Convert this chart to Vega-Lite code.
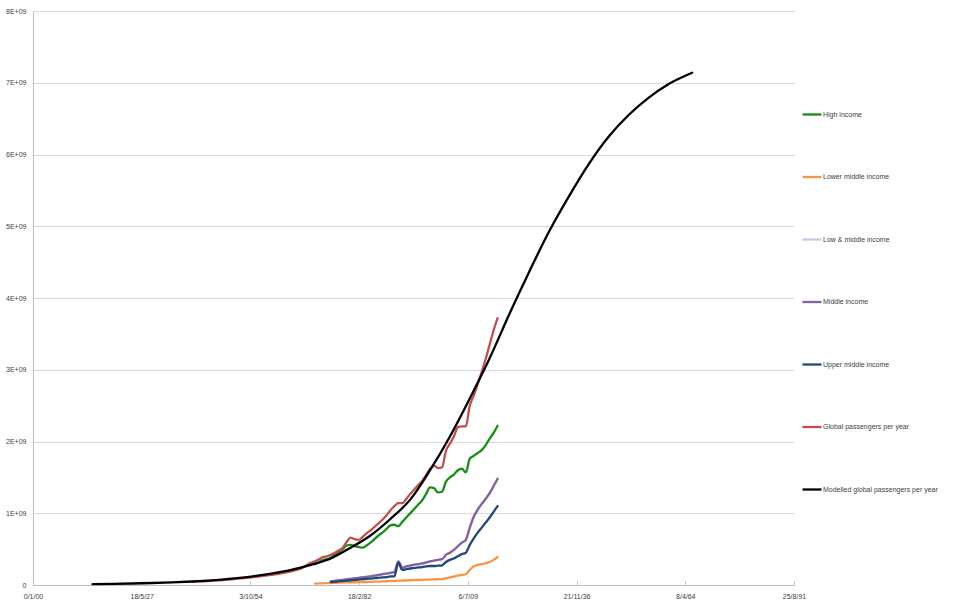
{
 "$schema": "https://vega.github.io/schema/vega-lite/v6.json",
 "width": 761, "height": 574,
 "autosize": {"type": "none"},
 "padding": {"left": 33, "top": 11, "right": 166, "bottom": 21},
 "background": "white",
 "config": {"view": {"stroke": null}, "font": "Liberation Sans"},
 "datasets": {
  "d": [
   {"series":"High income","year":1971,"bn":0.29},{"series":"High income","year":1972,"bn":0.32},{"series":"High income","year":1973,"bn":0.35},{"series":"High income","year":1974,"bn":0.36},{"series":"High income","year":1975,"bn":0.38},{"series":"High income","year":1976,"bn":0.42},{"series":"High income","year":1977,"bn":0.46},{"series":"High income","year":1978,"bn":0.5},{"series":"High income","year":1979,"bn":0.55},{"series":"High income","year":1980,"bn":0.56},{"series":"High income","year":1981,"bn":0.54},{"series":"High income","year":1982,"bn":0.53},{"series":"High income","year":1983,"bn":0.52},{"series":"High income","year":1984,"bn":0.55},{"series":"High income","year":1985,"bn":0.59},{"series":"High income","year":1986,"bn":0.64},{"series":"High income","year":1987,"bn":0.69},{"series":"High income","year":1988,"bn":0.73},{"series":"High income","year":1989,"bn":0.78},{"series":"High income","year":1990,"bn":0.83},{"series":"High income","year":1991,"bn":0.84},{"series":"High income","year":1992,"bn":0.82},{"series":"High income","year":1993,"bn":0.88},{"series":"High income","year":1994,"bn":0.94},{"series":"High income","year":1995,"bn":1.0},{"series":"High income","year":1996,"bn":1.06},{"series":"High income","year":1997,"bn":1.12},{"series":"High income","year":1998,"bn":1.18},{"series":"High income","year":1999,"bn":1.27},{"series":"High income","year":2000,"bn":1.36},{"series":"High income","year":2001,"bn":1.35},{"series":"High income","year":2002,"bn":1.29},{"series":"High income","year":2003,"bn":1.3},{"series":"High income","year":2004,"bn":1.44},{"series":"High income","year":2005,"bn":1.5},{"series":"High income","year":2006,"bn":1.54},{"series":"High income","year":2007,"bn":1.6},{"series":"High income","year":2008,"bn":1.62},{"series":"High income","year":2009,"bn":1.57},{"series":"High income","year":2010,"bn":1.76},{"series":"High income","year":2011,"bn":1.8},{"series":"High income","year":2012,"bn":1.84},{"series":"High income","year":2013,"bn":1.88},{"series":"High income","year":2014,"bn":1.95},{"series":"High income","year":2015,"bn":2.04},{"series":"High income","year":2016,"bn":2.12},{"series":"High income","year":2017,"bn":2.22},

   {"series":"Lower middle income","year":1971,"bn":0.02},{"series":"Lower middle income","year":1972,"bn":0.022},{"series":"Lower middle income","year":1973,"bn":0.024},{"series":"Lower middle income","year":1974,"bn":0.026},{"series":"Lower middle income","year":1975,"bn":0.028},{"series":"Lower middle income","year":1976,"bn":0.03},{"series":"Lower middle income","year":1977,"bn":0.032},{"series":"Lower middle income","year":1978,"bn":0.034},{"series":"Lower middle income","year":1979,"bn":0.036},{"series":"Lower middle income","year":1980,"bn":0.037},{"series":"Lower middle income","year":1981,"bn":0.038},{"series":"Lower middle income","year":1982,"bn":0.039},{"series":"Lower middle income","year":1983,"bn":0.04},{"series":"Lower middle income","year":1984,"bn":0.042},{"series":"Lower middle income","year":1985,"bn":0.044},{"series":"Lower middle income","year":1986,"bn":0.046},{"series":"Lower middle income","year":1987,"bn":0.048},{"series":"Lower middle income","year":1988,"bn":0.05},{"series":"Lower middle income","year":1989,"bn":0.052},{"series":"Lower middle income","year":1990,"bn":0.055},{"series":"Lower middle income","year":1991,"bn":0.056},{"series":"Lower middle income","year":1992,"bn":0.06},{"series":"Lower middle income","year":1993,"bn":0.062},{"series":"Lower middle income","year":1994,"bn":0.064},{"series":"Lower middle income","year":1995,"bn":0.066},{"series":"Lower middle income","year":1996,"bn":0.068},{"series":"Lower middle income","year":1997,"bn":0.07},{"series":"Lower middle income","year":1998,"bn":0.072},{"series":"Lower middle income","year":1999,"bn":0.074},{"series":"Lower middle income","year":2000,"bn":0.076},{"series":"Lower middle income","year":2001,"bn":0.078},{"series":"Lower middle income","year":2002,"bn":0.08},{"series":"Lower middle income","year":2003,"bn":0.082},{"series":"Lower middle income","year":2004,"bn":0.095},{"series":"Lower middle income","year":2005,"bn":0.105},{"series":"Lower middle income","year":2006,"bn":0.118},{"series":"Lower middle income","year":2007,"bn":0.13},{"series":"Lower middle income","year":2008,"bn":0.14},{"series":"Lower middle income","year":2009,"bn":0.15},{"series":"Lower middle income","year":2010,"bn":0.21},{"series":"Lower middle income","year":2011,"bn":0.26},{"series":"Lower middle income","year":2012,"bn":0.28},{"series":"Lower middle income","year":2013,"bn":0.29},{"series":"Lower middle income","year":2014,"bn":0.305},{"series":"Lower middle income","year":2015,"bn":0.32},{"series":"Lower middle income","year":2016,"bn":0.35},{"series":"Lower middle income","year":2017,"bn":0.39},

   {"series":"Low & middle income","year":1975,"bn":0.05},{"series":"Low & middle income","year":1976,"bn":0.057},{"series":"Low & middle income","year":1977,"bn":0.064},{"series":"Low & middle income","year":1978,"bn":0.071},{"series":"Low & middle income","year":1979,"bn":0.078},{"series":"Low & middle income","year":1980,"bn":0.085},{"series":"Low & middle income","year":1981,"bn":0.092},{"series":"Low & middle income","year":1982,"bn":0.1},{"series":"Low & middle income","year":1983,"bn":0.107},{"series":"Low & middle income","year":1984,"bn":0.114},{"series":"Low & middle income","year":1985,"bn":0.12},{"series":"Low & middle income","year":1986,"bn":0.13},{"series":"Low & middle income","year":1987,"bn":0.14},{"series":"Low & middle income","year":1988,"bn":0.15},{"series":"Low & middle income","year":1989,"bn":0.16},{"series":"Low & middle income","year":1990,"bn":0.17},{"series":"Low & middle income","year":1991,"bn":0.18},{"series":"Low & middle income","year":1992,"bn":0.33},{"series":"Low & middle income","year":1993,"bn":0.24},{"series":"Low & middle income","year":1994,"bn":0.26},{"series":"Low & middle income","year":1995,"bn":0.27},{"series":"Low & middle income","year":1996,"bn":0.285},{"series":"Low & middle income","year":1997,"bn":0.29},{"series":"Low & middle income","year":1998,"bn":0.3},{"series":"Low & middle income","year":1999,"bn":0.315},{"series":"Low & middle income","year":2000,"bn":0.33},{"series":"Low & middle income","year":2001,"bn":0.34},{"series":"Low & middle income","year":2002,"bn":0.35},{"series":"Low & middle income","year":2003,"bn":0.36},{"series":"Low & middle income","year":2004,"bn":0.42},{"series":"Low & middle income","year":2005,"bn":0.45},{"series":"Low & middle income","year":2006,"bn":0.49},{"series":"Low & middle income","year":2007,"bn":0.54},{"series":"Low & middle income","year":2008,"bn":0.59},{"series":"Low & middle income","year":2009,"bn":0.63},{"series":"Low & middle income","year":2010,"bn":0.8},{"series":"Low & middle income","year":2011,"bn":0.95},{"series":"Low & middle income","year":2012,"bn":1.05},{"series":"Low & middle income","year":2013,"bn":1.13},{"series":"Low & middle income","year":2014,"bn":1.2},{"series":"Low & middle income","year":2015,"bn":1.28},{"series":"Low & middle income","year":2016,"bn":1.38},{"series":"Low & middle income","year":2017,"bn":1.48},

   {"series":"Middle income","year":1975,"bn":0.05},{"series":"Middle income","year":1976,"bn":0.057},{"series":"Middle income","year":1977,"bn":0.064},{"series":"Middle income","year":1978,"bn":0.071},{"series":"Middle income","year":1979,"bn":0.078},{"series":"Middle income","year":1980,"bn":0.085},{"series":"Middle income","year":1981,"bn":0.092},{"series":"Middle income","year":1982,"bn":0.1},{"series":"Middle income","year":1983,"bn":0.107},{"series":"Middle income","year":1984,"bn":0.114},{"series":"Middle income","year":1985,"bn":0.12},{"series":"Middle income","year":1986,"bn":0.13},{"series":"Middle income","year":1987,"bn":0.14},{"series":"Middle income","year":1988,"bn":0.15},{"series":"Middle income","year":1989,"bn":0.16},{"series":"Middle income","year":1990,"bn":0.17},{"series":"Middle income","year":1991,"bn":0.18},{"series":"Middle income","year":1992,"bn":0.33},{"series":"Middle income","year":1993,"bn":0.24},{"series":"Middle income","year":1994,"bn":0.26},{"series":"Middle income","year":1995,"bn":0.27},{"series":"Middle income","year":1996,"bn":0.285},{"series":"Middle income","year":1997,"bn":0.29},{"series":"Middle income","year":1998,"bn":0.3},{"series":"Middle income","year":1999,"bn":0.315},{"series":"Middle income","year":2000,"bn":0.33},{"series":"Middle income","year":2001,"bn":0.34},{"series":"Middle income","year":2002,"bn":0.35},{"series":"Middle income","year":2003,"bn":0.36},{"series":"Middle income","year":2004,"bn":0.42},{"series":"Middle income","year":2005,"bn":0.45},{"series":"Middle income","year":2006,"bn":0.49},{"series":"Middle income","year":2007,"bn":0.54},{"series":"Middle income","year":2008,"bn":0.59},{"series":"Middle income","year":2009,"bn":0.63},{"series":"Middle income","year":2010,"bn":0.8},{"series":"Middle income","year":2011,"bn":0.95},{"series":"Middle income","year":2012,"bn":1.05},{"series":"Middle income","year":2013,"bn":1.13},{"series":"Middle income","year":2014,"bn":1.2},{"series":"Middle income","year":2015,"bn":1.28},{"series":"Middle income","year":2016,"bn":1.38},{"series":"Middle income","year":2017,"bn":1.48},

   {"series":"Upper middle income","year":1975,"bn":0.04},{"series":"Upper middle income","year":1976,"bn":0.045},{"series":"Upper middle income","year":1977,"bn":0.05},{"series":"Upper middle income","year":1978,"bn":0.055},{"series":"Upper middle income","year":1979,"bn":0.06},{"series":"Upper middle income","year":1980,"bn":0.065},{"series":"Upper middle income","year":1981,"bn":0.07},{"series":"Upper middle income","year":1982,"bn":0.075},{"series":"Upper middle income","year":1983,"bn":0.08},{"series":"Upper middle income","year":1984,"bn":0.085},{"series":"Upper middle income","year":1985,"bn":0.09},{"series":"Upper middle income","year":1986,"bn":0.095},{"series":"Upper middle income","year":1987,"bn":0.1},{"series":"Upper middle income","year":1988,"bn":0.105},{"series":"Upper middle income","year":1989,"bn":0.11},{"series":"Upper middle income","year":1990,"bn":0.12},{"series":"Upper middle income","year":1991,"bn":0.12},{"series":"Upper middle income","year":1992,"bn":0.31},{"series":"Upper middle income","year":1993,"bn":0.21},{"series":"Upper middle income","year":1994,"bn":0.22},{"series":"Upper middle income","year":1995,"bn":0.23},{"series":"Upper middle income","year":1996,"bn":0.24},{"series":"Upper middle income","year":1997,"bn":0.245},{"series":"Upper middle income","year":1998,"bn":0.25},{"series":"Upper middle income","year":1999,"bn":0.26},{"series":"Upper middle income","year":2000,"bn":0.265},{"series":"Upper middle income","year":2001,"bn":0.265},{"series":"Upper middle income","year":2002,"bn":0.27},{"series":"Upper middle income","year":2003,"bn":0.275},{"series":"Upper middle income","year":2004,"bn":0.32},{"series":"Upper middle income","year":2005,"bn":0.35},{"series":"Upper middle income","year":2006,"bn":0.37},{"series":"Upper middle income","year":2007,"bn":0.4},{"series":"Upper middle income","year":2008,"bn":0.43},{"series":"Upper middle income","year":2009,"bn":0.45},{"series":"Upper middle income","year":2010,"bn":0.56},{"series":"Upper middle income","year":2011,"bn":0.65},{"series":"Upper middle income","year":2012,"bn":0.73},{"series":"Upper middle income","year":2013,"bn":0.8},{"series":"Upper middle income","year":2014,"bn":0.87},{"series":"Upper middle income","year":2015,"bn":0.94},{"series":"Upper middle income","year":2016,"bn":1.02},{"series":"Upper middle income","year":2017,"bn":1.1},

   {"series":"Global passengers per year","year":1940,"bn":0.045},{"series":"Global passengers per year","year":1945,"bn":0.058},{"series":"Global passengers per year","year":1950,"bn":0.08},{"series":"Global passengers per year","year":1955,"bn":0.105},{"series":"Global passengers per year","year":1960,"bn":0.14},{"series":"Global passengers per year","year":1965,"bn":0.19},{"series":"Global passengers per year","year":1967,"bn":0.22},{"series":"Global passengers per year","year":1968,"bn":0.245},{"series":"Global passengers per year","year":1969,"bn":0.28},{"series":"Global passengers per year","year":1970,"bn":0.31},{"series":"Global passengers per year","year":1971,"bn":0.33},{"series":"Global passengers per year","year":1972,"bn":0.36},{"series":"Global passengers per year","year":1973,"bn":0.39},{"series":"Global passengers per year","year":1974,"bn":0.4},{"series":"Global passengers per year","year":1975,"bn":0.42},{"series":"Global passengers per year","year":1976,"bn":0.45},{"series":"Global passengers per year","year":1977,"bn":0.48},{"series":"Global passengers per year","year":1978,"bn":0.52},{"series":"Global passengers per year","year":1979,"bn":0.6},{"series":"Global passengers per year","year":1980,"bn":0.66},{"series":"Global passengers per year","year":1981,"bn":0.64},{"series":"Global passengers per year","year":1982,"bn":0.63},{"series":"Global passengers per year","year":1983,"bn":0.67},{"series":"Global passengers per year","year":1984,"bn":0.72},{"series":"Global passengers per year","year":1985,"bn":0.76},{"series":"Global passengers per year","year":1986,"bn":0.81},{"series":"Global passengers per year","year":1987,"bn":0.86},{"series":"Global passengers per year","year":1988,"bn":0.91},{"series":"Global passengers per year","year":1989,"bn":0.97},{"series":"Global passengers per year","year":1990,"bn":1.04},{"series":"Global passengers per year","year":1991,"bn":1.1},{"series":"Global passengers per year","year":1992,"bn":1.14},{"series":"Global passengers per year","year":1993,"bn":1.14},{"series":"Global passengers per year","year":1994,"bn":1.2},{"series":"Global passengers per year","year":1995,"bn":1.27},{"series":"Global passengers per year","year":1996,"bn":1.33},{"series":"Global passengers per year","year":1997,"bn":1.39},{"series":"Global passengers per year","year":1998,"bn":1.45},{"series":"Global passengers per year","year":1999,"bn":1.53},{"series":"Global passengers per year","year":2000,"bn":1.62},{"series":"Global passengers per year","year":2001,"bn":1.66},{"series":"Global passengers per year","year":2002,"bn":1.63},{"series":"Global passengers per year","year":2003,"bn":1.64},{"series":"Global passengers per year","year":2004,"bn":1.87},{"series":"Global passengers per year","year":2005,"bn":1.97},{"series":"Global passengers per year","year":2006,"bn":2.07},{"series":"Global passengers per year","year":2007,"bn":2.2},{"series":"Global passengers per year","year":2008,"bn":2.21},{"series":"Global passengers per year","year":2009,"bn":2.21},{"series":"Global passengers per year","year":2010,"bn":2.5},{"series":"Global passengers per year","year":2011,"bn":2.64},{"series":"Global passengers per year","year":2012,"bn":2.8},{"series":"Global passengers per year","year":2013,"bn":2.97},{"series":"Global passengers per year","year":2014,"bn":3.15},{"series":"Global passengers per year","year":2015,"bn":3.35},{"series":"Global passengers per year","year":2016,"bn":3.55},{"series":"Global passengers per year","year":2017,"bn":3.72},

   {"series":"Modelled global passengers per year","year":1915,"bn":0.012},{"series":"Modelled global passengers per year","year":1920,"bn":0.016},{"series":"Modelled global passengers per year","year":1925,"bn":0.021},{"series":"Modelled global passengers per year","year":1930,"bn":0.028},{"series":"Modelled global passengers per year","year":1935,"bn":0.037},{"series":"Modelled global passengers per year","year":1940,"bn":0.049},{"series":"Modelled global passengers per year","year":1945,"bn":0.065},{"series":"Modelled global passengers per year","year":1950,"bn":0.088},{"series":"Modelled global passengers per year","year":1955,"bn":0.118},{"series":"Modelled global passengers per year","year":1960,"bn":0.158},{"series":"Modelled global passengers per year","year":1965,"bn":0.21},{"series":"Modelled global passengers per year","year":1970,"bn":0.28},{"series":"Modelled global passengers per year","year":1975,"bn":0.37},{"series":"Modelled global passengers per year","year":1980,"bn":0.52},{"series":"Modelled global passengers per year","year":1985,"bn":0.69},{"series":"Modelled global passengers per year","year":1990,"bn":0.92},{"series":"Modelled global passengers per year","year":1995,"bn":1.19},{"series":"Modelled global passengers per year","year":2000,"bn":1.6},{"series":"Modelled global passengers per year","year":2005,"bn":2.07},{"series":"Modelled global passengers per year","year":2010,"bn":2.6},{"series":"Modelled global passengers per year","year":2015,"bn":3.16},{"series":"Modelled global passengers per year","year":2020,"bn":3.78},{"series":"Modelled global passengers per year","year":2025,"bn":4.37},{"series":"Modelled global passengers per year","year":2030,"bn":4.93},{"series":"Modelled global passengers per year","year":2035,"bn":5.42},{"series":"Modelled global passengers per year","year":2040,"bn":5.87},{"series":"Modelled global passengers per year","year":2045,"bn":6.25},{"series":"Modelled global passengers per year","year":2050,"bn":6.55},{"series":"Modelled global passengers per year","year":2055,"bn":6.79},{"series":"Modelled global passengers per year","year":2060,"bn":6.98},{"series":"Modelled global passengers per year","year":2066,"bn":7.14}
  ]
 },
 "data": {"name": "d"},
 "mark": {"type": "line", "interpolate": "monotone", "strokeCap": "round", "strokeJoin": "round"},
 "encoding": {
  "x": {
   "field": "year", "type": "quantitative",
   "scale": {"domain": [1900, 2091.65], "nice": false, "zero": false},
   "axis": {
    "title": null, "grid": false,
    "values": [1900, 1927.379, 1954.757, 1982.136, 2009.514, 2036.893, 2064.271, 2091.65],
    "labelExpr": "datum.value < 1910 ? '0/1/00' : datum.value < 1940 ? '18/5/27' : datum.value < 1970 ? '3/10/54' : datum.value < 2000 ? '18/2/82' : datum.value < 2020 ? '6/7/09' : datum.value < 2050 ? '21/11/36' : datum.value < 2080 ? '8/4/64' : '25/8/91'",
    "domainColor": "#bfbfbf", "tickColor": "#bfbfbf", "tickSize": -4,
    "labelPadding": 11, "labelFontSize": 7, "labelColor": "#404040", "labelFlush": false, "labelOverlap": false
   }
  },
  "y": {
   "field": "bn", "type": "quantitative",
   "scale": {"domain": [0, 8], "nice": false},
   "axis": {
    "title": null, "values": [0, 1, 2, 3, 4, 5, 6, 7, 8],
    "labelExpr": "datum.value == 0 ? '0' : datum.value + 'E+09'",
    "grid": true, "gridColor": "#d9d9d9", "gridWidth": 1,
    "ticks": false, "domainColor": "#bfbfbf", "labelPadding": 7,
    "labelFontSize": 7, "labelColor": "#404040"
   }
  },
  "color": {
   "field": "series", "type": "nominal",
   "scale": {
    "domain": ["High income", "Lower middle income", "Low & middle income", "Middle income", "Upper middle income", "Global passengers per year", "Modelled global passengers per year"],
    "range": ["#1a8c1a", "#f79646", "#ccc6ec", "#8064a2", "#1f497d", "#c0504d", "#000000"]
   },
   "legend": {
    "title": null, "orient": "none", "legendX": 768, "legendY": 92.5, "direction": "vertical",
    "padding": 0, "rowPadding": 46.5, "symbolType": "stroke", "symbolSize": 361,
    "symbolStrokeWidth": 3, "labelFontSize": 7, "labelOffset": 0, "labelColor": "#404040", "labelLimit": 300
   }
  },
  "strokeWidth": {
   "field": "series", "type": "nominal",
   "scale": {
    "domain": ["High income", "Lower middle income", "Low & middle income", "Middle income", "Upper middle income", "Global passengers per year", "Modelled global passengers per year"],
    "range": [2.3, 2.3, 2.3, 2.3, 2.3, 2.3, 2.8]
   },
   "legend": null
  }
 }
}
